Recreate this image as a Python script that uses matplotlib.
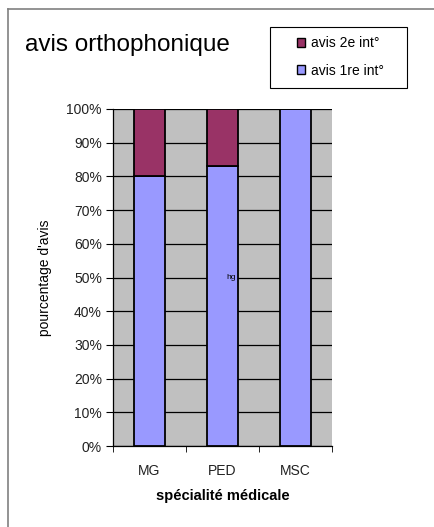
import matplotlib

matplotlib.use("Agg")

import matplotlib.pyplot as plt
import numpy as np
from matplotlib.lines import Line2D
from matplotlib.patches import Patch, Rectangle

categories = ["MG", "PED", "MSC"]
first_int = [80, 83, 100]
second_int = [20, 17, 0]
series_labels = ["avis 1re int°", "avis 2e int°"]
y_ticks = [0, 10, 20, 30, 40, 50, 60, 70, 80, 90, 100]

BLUE = "#9999FF"
PLUM = "#993366"
GRAY = "#C0C0C0"

plt.rcParams["font.family"] = ["Liberation Sans", "DejaVu Sans"]

fig = plt.figure(figsize=(4.34, 5.27), dpi=100)
ax = fig.add_axes([113 / 434, 81 / 527, 219 / 434, 337 / 527])
ax.set_facecolor(GRAY)

x = np.arange(len(categories))
width = 0.42
ax.bar(x, first_int, width, color=BLUE, edgecolor="black", linewidth=1.3, zorder=3)
ax.bar(x, second_int, width, bottom=first_int, color=PLUM, edgecolor="black",
       linewidth=1.3, zorder=3)

ax.set_xlim(-0.5, len(categories) - 0.5)
ax.set_ylim(0, 100)
ax.set_yticks(y_ticks)
ax.set_yticklabels([f"{t}%" for t in y_ticks], fontsize=10, color="#222222")
ax.yaxis.grid(True, color="black", linewidth=0.9, zorder=1)
ax.set_axisbelow(True)

ax.set_xticks(x)
ax.set_xticklabels(categories, fontsize=10, color="#222222")
ax.tick_params(axis="x", which="major", length=0, pad=13)
ax.set_xticks(np.arange(len(categories) + 1) - 0.5, minor=True)
ax.tick_params(axis="x", which="minor", length=4, direction="out")
ax.tick_params(axis="y", length=5, direction="out", pad=3)

for side in ["top", "right"]:
    ax.spines[side].set_visible(False)
ax.spines["left"].set_linewidth(0.9)
ax.spines["bottom"].set_linewidth(0.9)

ax.set_xlabel("spécialité médicale", fontsize=10.5, fontweight="bold", labelpad=8)
ax.set_ylabel("pourcentage d'avis", fontsize=10, labelpad=10)

ax.text(1.19, 50, "hg", fontsize=6, ha="right", va="center", zorder=4)

fig.text(25 / 434, 1 - 45 / 527, "avis orthophonique", fontsize=17.5, va="center", ha="left")

# legend box
fig.add_artist(Rectangle((270 / 434, 1 - 88 / 527), 137 / 434, 61 / 527,
                         transform=fig.transFigure, facecolor="white",
                         edgecolor="black", linewidth=0.8))
handles = [Patch(facecolor=PLUM, edgecolor="black"), Patch(facecolor=BLUE, edgecolor="black")]
leg = fig.legend(handles, [series_labels[1], series_labels[0]],
                 loc="center left", bbox_to_anchor=(290 / 434, 1 - 57 / 527),
                 fontsize=10, frameon=False,
                 handlelength=0.6, handleheight=0.6, handletextpad=0.4,
                 labelspacing=0.95, borderpad=0)

# outer chart frame
fig.add_artist(Line2D([8 / 434, 1], [1 - 9 / 527, 1 - 9 / 527], color="#808080", linewidth=1.2))
fig.add_artist(Line2D([8 / 434, 8 / 434], [0, 1 - 9 / 527], color="#808080", linewidth=1.2))

fig.savefig("out.png", dpi=100)
